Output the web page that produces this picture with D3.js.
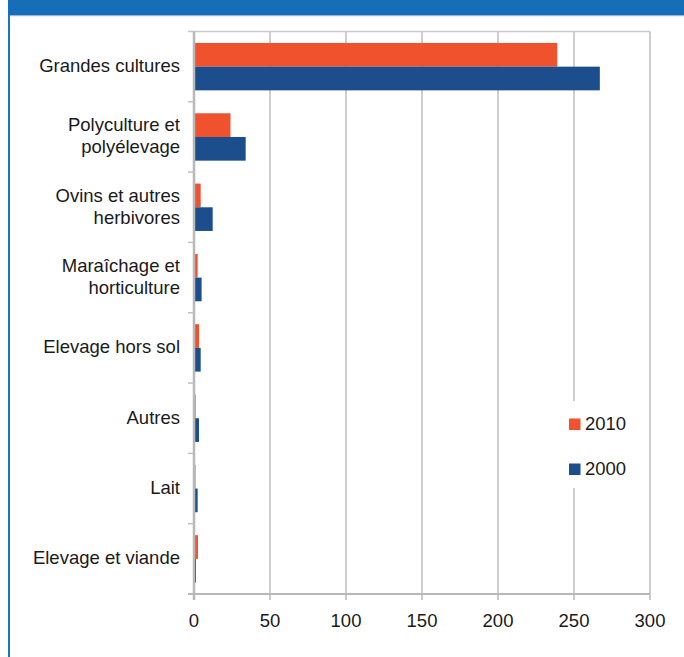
<!DOCTYPE html>
<html>
<head>
<meta charset="utf-8">
<script src="https://cdn.jsdelivr.net/npm/d3@7"></script>
<style>
  body { margin: 0; background: #fff; }
  text { font-family: "Liberation Sans", Arial, sans-serif; fill: #1a1a1a; }
</style>
</head>
<body>
<div id="chart"></div>
<script>
// data
var categories = ["Grandes cultures", "Polyculture et\npolyélevage", "Ovins et autres\nherbivores",
                  "Maraîchage et\nhorticulture", "Elevage hors sol", "Autres", "Lait", "Elevage et viande"];
var series = ["2010", "2000"];
var values2010 = [239, 24, 4.4, 2.4, 3.3, 1.1, 1, 2.6];
var values2000 = [267, 34, 12.3, 5, 4.4, 3.3, 2.4, 1.3];
var xTicks = [0, 50, 100, 150, 200, 250, 300];

var colors = {"2010": "#f0522e", "2000": "#1c4e8e"};
var W = 684, H = 657;
var plotL = 194, plotR = 650, plotT = 31.5, plotB = 594;

var svg = d3.select("#chart").append("svg")
  .attr("width", W).attr("height", H);

// frame: blue header band + left border
svg.append("rect").attr("x", 8).attr("y", 0).attr("width", W - 8).attr("height", 15).attr("fill", "#166eb6");
svg.append("rect").attr("x", 8).attr("y", 15).attr("width", W - 8).attr("height", 1.2).attr("fill", "#8fb8e0");
svg.append("rect").attr("x", 8).attr("y", 15).attr("width", 2).attr("height", H - 15).attr("fill", "#1a74c4");

var xScale = d3.scaleLinear().domain([0, 300]).range([plotL, plotR]);
var yScale = d3.scaleBand().domain(categories).range([plotT, plotB])
  .paddingInner(0.326).paddingOuter(0.163);
var sScale = d3.scaleBand().domain(series).range([0, yScale.bandwidth()]);

// vertical grid
svg.append("g").selectAll("line").data(xTicks.slice(1)).enter().append("line")
  .attr("x1", function(d){ return xScale(d); }).attr("x2", function(d){ return xScale(d); })
  .attr("y1", plotT).attr("y2", plotB)
  .attr("stroke", "#b3b3b3").attr("stroke-width", 1.3);
// top border
svg.append("line").attr("x1", plotL - 6).attr("x2", plotR).attr("y1", plotT).attr("y2", plotT)
  .attr("stroke", "#c8c8c8").attr("stroke-width", 1.5);

// bars
var rows = categories.map(function(c, i){ return {cat: c, "2010": values2010[i], "2000": values2000[i]}; });
var groups = svg.append("g").selectAll("g").data(rows).enter().append("g")
  .attr("transform", function(d){ return "translate(0," + yScale(d.cat) + ")"; });
groups.selectAll("rect").data(function(d){ return series.map(function(s){ return {s: s, v: d[s]}; }); })
  .enter().append("rect")
  .attr("x", xScale(0))
  .attr("y", function(d){ return sScale(d.s); })
  .attr("width", function(d){ return xScale(d.v) - xScale(0); })
  .attr("height", sScale.bandwidth())
  .attr("fill", function(d){ return colors[d.s]; });

// y axis line and category ticks
svg.append("line").attr("x1", plotL).attr("x2", plotL).attr("y1", plotT).attr("y2", plotB + 6)
  .attr("stroke", "#b8b8b8").attr("stroke-width", 2.5);
var bounds = categories.map(function(c){ return yScale(c) - yScale.step() * yScale.paddingInner() / 2; });
bounds.push(plotB);
svg.append("g").selectAll("line").data(bounds.slice(1)).enter().append("line")
  .attr("x1", plotL - 6).attr("x2", plotL).attr("y1", function(d){ return d; }).attr("y2", function(d){ return d; })
  .attr("stroke", "#c0c0c0").attr("stroke-width", 1.5);

// x axis
svg.append("line").attr("x1", plotL - 6).attr("x2", plotR).attr("y1", plotB).attr("y2", plotB)
  .attr("stroke", "#b8b8b8").attr("stroke-width", 2);
svg.append("g").selectAll("line").data(xTicks).enter().append("line")
  .attr("x1", function(d){ return xScale(d); }).attr("x2", function(d){ return xScale(d); })
  .attr("y1", plotB).attr("y2", plotB + 6)
  .attr("stroke", "#b8b8b8").attr("stroke-width", 1.5);
svg.append("g").selectAll("text").data(xTicks).enter().append("text")
  .attr("x", function(d){ return xScale(d); }).attr("y", 627)
  .attr("text-anchor", "middle").style("font-size", "18.5px")
  .text(function(d){ return d; });

// category labels
svg.append("g").selectAll("text").data(categories).enter().append("text")
  .attr("text-anchor", "end").style("font-size", "18.5px")
  .each(function(d){
    var lines = d.split("\n");
    var cy = yScale(d) + yScale.bandwidth() / 2;
    var t = d3.select(this);
    lines.forEach(function(l, i){
      t.append("tspan").attr("x", 180)
        .attr("y", cy + 5.5 + (i - (lines.length - 1) / 2) * 22)
        .text(l);
    });
  });

// legend
var lg = svg.append("g");
lg.append("rect").attr("x", 560).attr("y", 401).attr("width", 84).attr("height", 87).attr("fill", "#fff");
series.forEach(function(s, i){
  lg.append("rect").attr("x", 569).attr("y", 418.5 + i * 45).attr("width", 11.5).attr("height", 11.5)
    .attr("fill", colors[s]);
  lg.append("text").attr("x", 585).attr("y", 430 + i * 45).style("font-size", "18.5px").text(s);
});
</script>
</body>
</html>
